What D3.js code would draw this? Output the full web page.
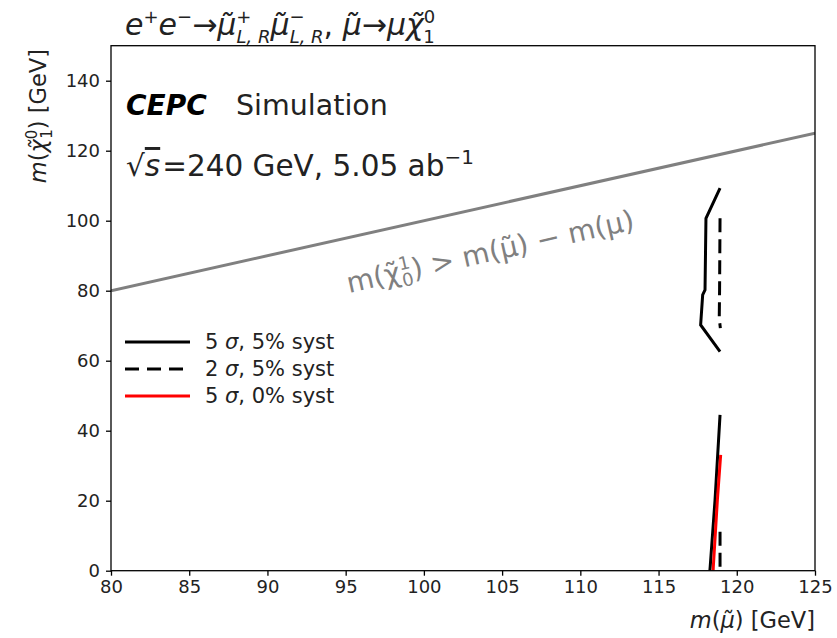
<!DOCTYPE html>
<html><head><meta charset="utf-8">
<script src="https://cdn.jsdelivr.net/npm/d3@7"></script>
<style>body{margin:0;background:#fff}svg{font-family:"DejaVu Sans",sans-serif}</style>
</head><body><svg id="c" width="837" height="638"></svg>
<script>
const xTicks = [80,85,90,95,100,105,110,115,120,125];
const yTicks = [0,20,40,60,80,100,120,140];
const kinLine = [[80,80],[125,125]];
const solid5Upper = [[118.93,109.3],[118.03,100.7],[117.97,80.2],[117.82,78.8],[117.69,70.2],[118.93,62.6]];
const solid5Lower = [[118.93,44.5],[118.61,20.2],[118.3,1.1],[118.28,0]];
const dashed2Upper = [[118.93,100.7],[118.9,80],[118.88,72.1],[118.95,69.3]];
const dashed2Lower = [[118.93,11.1],[118.93,0]];
const red5Lower = [[118.97,33.1],[118.76,20.2],[118.5,1.1],[118.49,0]];
const legendItems = [
  {n:"5", rest:", 5% syst", color:"#000", dash:null},
  {n:"2", rest:", 5% syst", color:"#000", dash:"14,8"},
  {n:"5", rest:", 0% syst", color:"#ff0000", dash:null}
];

const svg = d3.select("#c");
const L=111, R=815, T=45.7, B=570.7;
const x = d3.scaleLinear().domain([80,125]).range([L,R]);
const y = d3.scaleLinear().domain([0,150]).range([B,T]);
const line = d3.line().x(d=>x(d[0])).y(d=>y(d[1]));

const defs = svg.append("defs");
defs.append("clipPath").attr("id","clip").append("rect").attr("x",L).attr("y",T).attr("width",R-L).attr("height",B-T);
const g = svg.append("g").attr("clip-path","url(#clip)");

g.append("path").datum(kinLine).attr("d",line).attr("fill","none").attr("stroke","#808080").attr("stroke-width",3);
g.append("path").datum(solid5Upper).attr("d",line).attr("fill","none").attr("stroke","#000").attr("stroke-width",3);
g.append("path").datum(solid5Lower).attr("d",line).attr("fill","none").attr("stroke","#000").attr("stroke-width",3);
g.append("path").datum(dashed2Upper).attr("d",line).attr("fill","none").attr("stroke","#000").attr("stroke-width",3).attr("stroke-dasharray","14,7");
g.append("path").datum(dashed2Lower).attr("d",line).attr("fill","none").attr("stroke","#000").attr("stroke-width",3).attr("stroke-dasharray","14,7");
g.append("path").datum(red5Lower).attr("d",line).attr("fill","none").attr("stroke","#ff0000").attr("stroke-width",3);

// axes
const xa = svg.append("g").attr("transform",`translate(0,${B})`).call(d3.axisBottom(x).tickValues(xTicks).tickSize(5).tickPadding(5).tickFormat(d3.format("d")));
const ya = svg.append("g").attr("transform",`translate(${L},0)`).call(d3.axisLeft(y).tickValues(yTicks).tickSize(5).tickPadding(6).tickFormat(d3.format("d")));
[xa,ya].forEach(a=>{a.select(".domain").remove();a.selectAll("text").attr("font-size",18).attr("font-family","DejaVu Sans").attr("fill","#222");a.selectAll("line").attr("stroke","#000").attr("stroke-width",1.3);});
svg.append("rect").attr("x",L).attr("y",T).attr("width",R-L).attr("height",B-T).attr("fill","none").attr("stroke","#000").attr("stroke-width",1.3);

// axis labels
const xl = svg.append("text").attr("x",R).attr("y",628).attr("text-anchor","end").attr("font-size",22.5).attr("fill","#222");
xl.append("tspan").attr("font-style","italic").text("m");
xl.append("tspan").text("(");
xl.append("tspan").attr("font-style","italic").text("μ̃");
xl.append("tspan").text(") [GeV]");

const yl = svg.append("text").attr("transform","translate(46,49) rotate(-90)").attr("text-anchor","end").attr("font-size",22.5).attr("fill","#222");
yl.append("tspan").attr("font-style","italic").text("m");
yl.append("tspan").text("(");
yl.append("tspan").attr("font-style","italic").text("χ̃");
yl.append("tspan").attr("font-size",15).attr("dy",-9).text("0");
yl.append("tspan").attr("font-size",15).attr("dx",-9).attr("dy",15).text("1");
yl.append("tspan").attr("dy",-6).text(") [GeV]");

// title
const t = svg.append("text").attr("x",125).attr("y",35).attr("font-size",30).attr("fill","#222");
t.append("tspan").attr("font-style","italic").text("e");
t.append("tspan").attr("font-size",18).attr("dy",-12).text("+");
t.append("tspan").attr("font-style","italic").attr("dy",12).text("e");
t.append("tspan").attr("font-size",18).attr("dy",-12).text("−");
t.append("tspan").attr("dy",12).text("→");
t.append("tspan").attr("font-style","italic").text("μ̃");
t.append("tspan").attr("font-size",18).attr("dy",-12).text("+");
t.append("tspan").attr("font-size",18).attr("font-style","italic").attr("dx",-15).attr("dy",20).text("L, R");
t.append("tspan").attr("font-style","italic").attr("dy",-8).text("μ̃");
t.append("tspan").attr("font-size",18).attr("dy",-12).text("−");
t.append("tspan").attr("font-size",18).attr("font-style","italic").attr("dx",-15).attr("dy",20).text("L, R");
t.append("tspan").attr("dy",-8).text(", ");
t.append("tspan").attr("font-style","italic").text("μ̃");
t.append("tspan").text("→");
t.append("tspan").attr("font-style","italic").text("μχ̃");
t.append("tspan").attr("font-size",18).attr("dy",-12).text("0");
t.append("tspan").attr("font-size",18).attr("dx",-12).attr("dy",20).text("1");

// CEPC
svg.append("text").attr("x",126).attr("y",115).attr("font-size",28).attr("font-weight","bold").attr("font-style","italic").attr("fill","#000").text("CEPC");
svg.append("text").attr("x",236).attr("y",115).attr("font-size",28.5).attr("fill","#222").text("Simulation");
const s = svg.append("text").attr("x",126).attr("y",176).attr("font-size",29.5).attr("fill","#222");
s.append("tspan").text("√");
s.append("tspan").attr("font-style","italic").attr("style","text-decoration:overline").text("s");
s.append("tspan").attr("dx",2).text("=240 GeV, 5.05 ab");
s.append("tspan").attr("font-size",20).attr("dy",-12).text("−1");

// grey rotated label
const ang = Math.atan2(y(80)-y(125), x(125)-x(80))*180/Math.PI;
const gl = svg.append("text").attr("transform",`translate(349,293) rotate(${-ang})`).attr("font-size",28).attr("fill","#808080");
gl.append("tspan").text("m(");
gl.append("tspan").text("χ̃");
gl.append("tspan").attr("font-size",18).attr("dy",-11).text("1");
gl.append("tspan").attr("font-size",18).attr("dx",-11).attr("dy",17).text("0");
gl.append("tspan").attr("dy",-6).text(") > m(μ̃) − m(μ)");

// legend
const lg = svg.append("g");
legendItems.forEach((d,i)=>{
  const yy = 342 + i*27;
  lg.append("line").attr("x1",125).attr("x2",190).attr("y1",yy).attr("y2",yy).attr("stroke",d.color).attr("stroke-width",3).attr("stroke-dasharray",d.dash);
  const tx = lg.append("text").attr("x",205).attr("y",yy+7).attr("font-size",21).attr("fill","#222");
  tx.append("tspan").text(d.n+" ");
  tx.append("tspan").attr("font-style","italic").text("σ");
  tx.append("tspan").text(d.rest);
});
</script></body></html>
